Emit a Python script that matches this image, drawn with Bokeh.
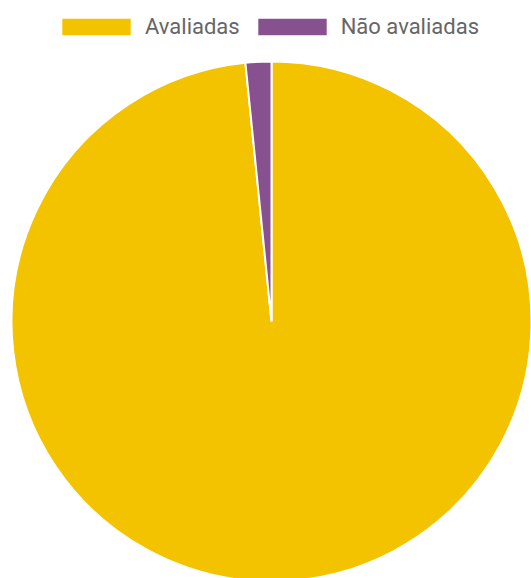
import math
from bokeh.plotting import figure
from bokeh.models import ColumnDataSource, Legend, LegendItem
from bokeh.embed import file_html
from bokeh.resources import INLINE

categories = ["Avaliadas", "Não avaliadas"]
values = [98.4, 1.6]
colors = ["#F4C300", "#87508F"]

W, H = 531, 578
total = sum(values)
starts, ends = [], []
acc = 0.0
for v in values:
    # Chart.js style: start at top, go clockwise
    a0 = math.pi / 2 - 2 * math.pi * acc / total
    a1 = math.pi / 2 - 2 * math.pi * (acc + v) / total
    starts.append(a1)
    ends.append(a0)
    acc += v

src = ColumnDataSource(dict(cat=categories, val=values, color=colors,
                            start=starts, end=ends))

p = figure(width=W, height=H, x_range=(0, W), y_range=(0, H),
           output_backend="svg", toolbar_location=None,
           min_border=0, outline_line_color=None)
p.axis.visible = False
p.grid.visible = False
p.background_fill_color = "white"
p.border_fill_color = "white"

cx, cy, R = 271, H - 321, 260
r = p.wedge(x=cx, y=cy, radius=R, start_angle="start", end_angle="end",
            direction="anticlock", fill_color="color", line_color="white",
            line_width=2, source=src)

items = [LegendItem(label=c, renderers=[r], index=i) for i, c in enumerate(categories)]
legend = Legend(items=items, orientation="horizontal", location=(52, 539),
                padding=0, margin=0, spacing=8, label_standoff=5,
                glyph_width=88, glyph_height=23, label_height=18,
                label_text_font="Roboto", label_text_font_size="22px",
                label_text_color="#666666", border_line_color=None,
                background_fill_alpha=0)
p.add_layout(legend, "center")

open("out.html", "w").write(file_html(p, INLINE))
